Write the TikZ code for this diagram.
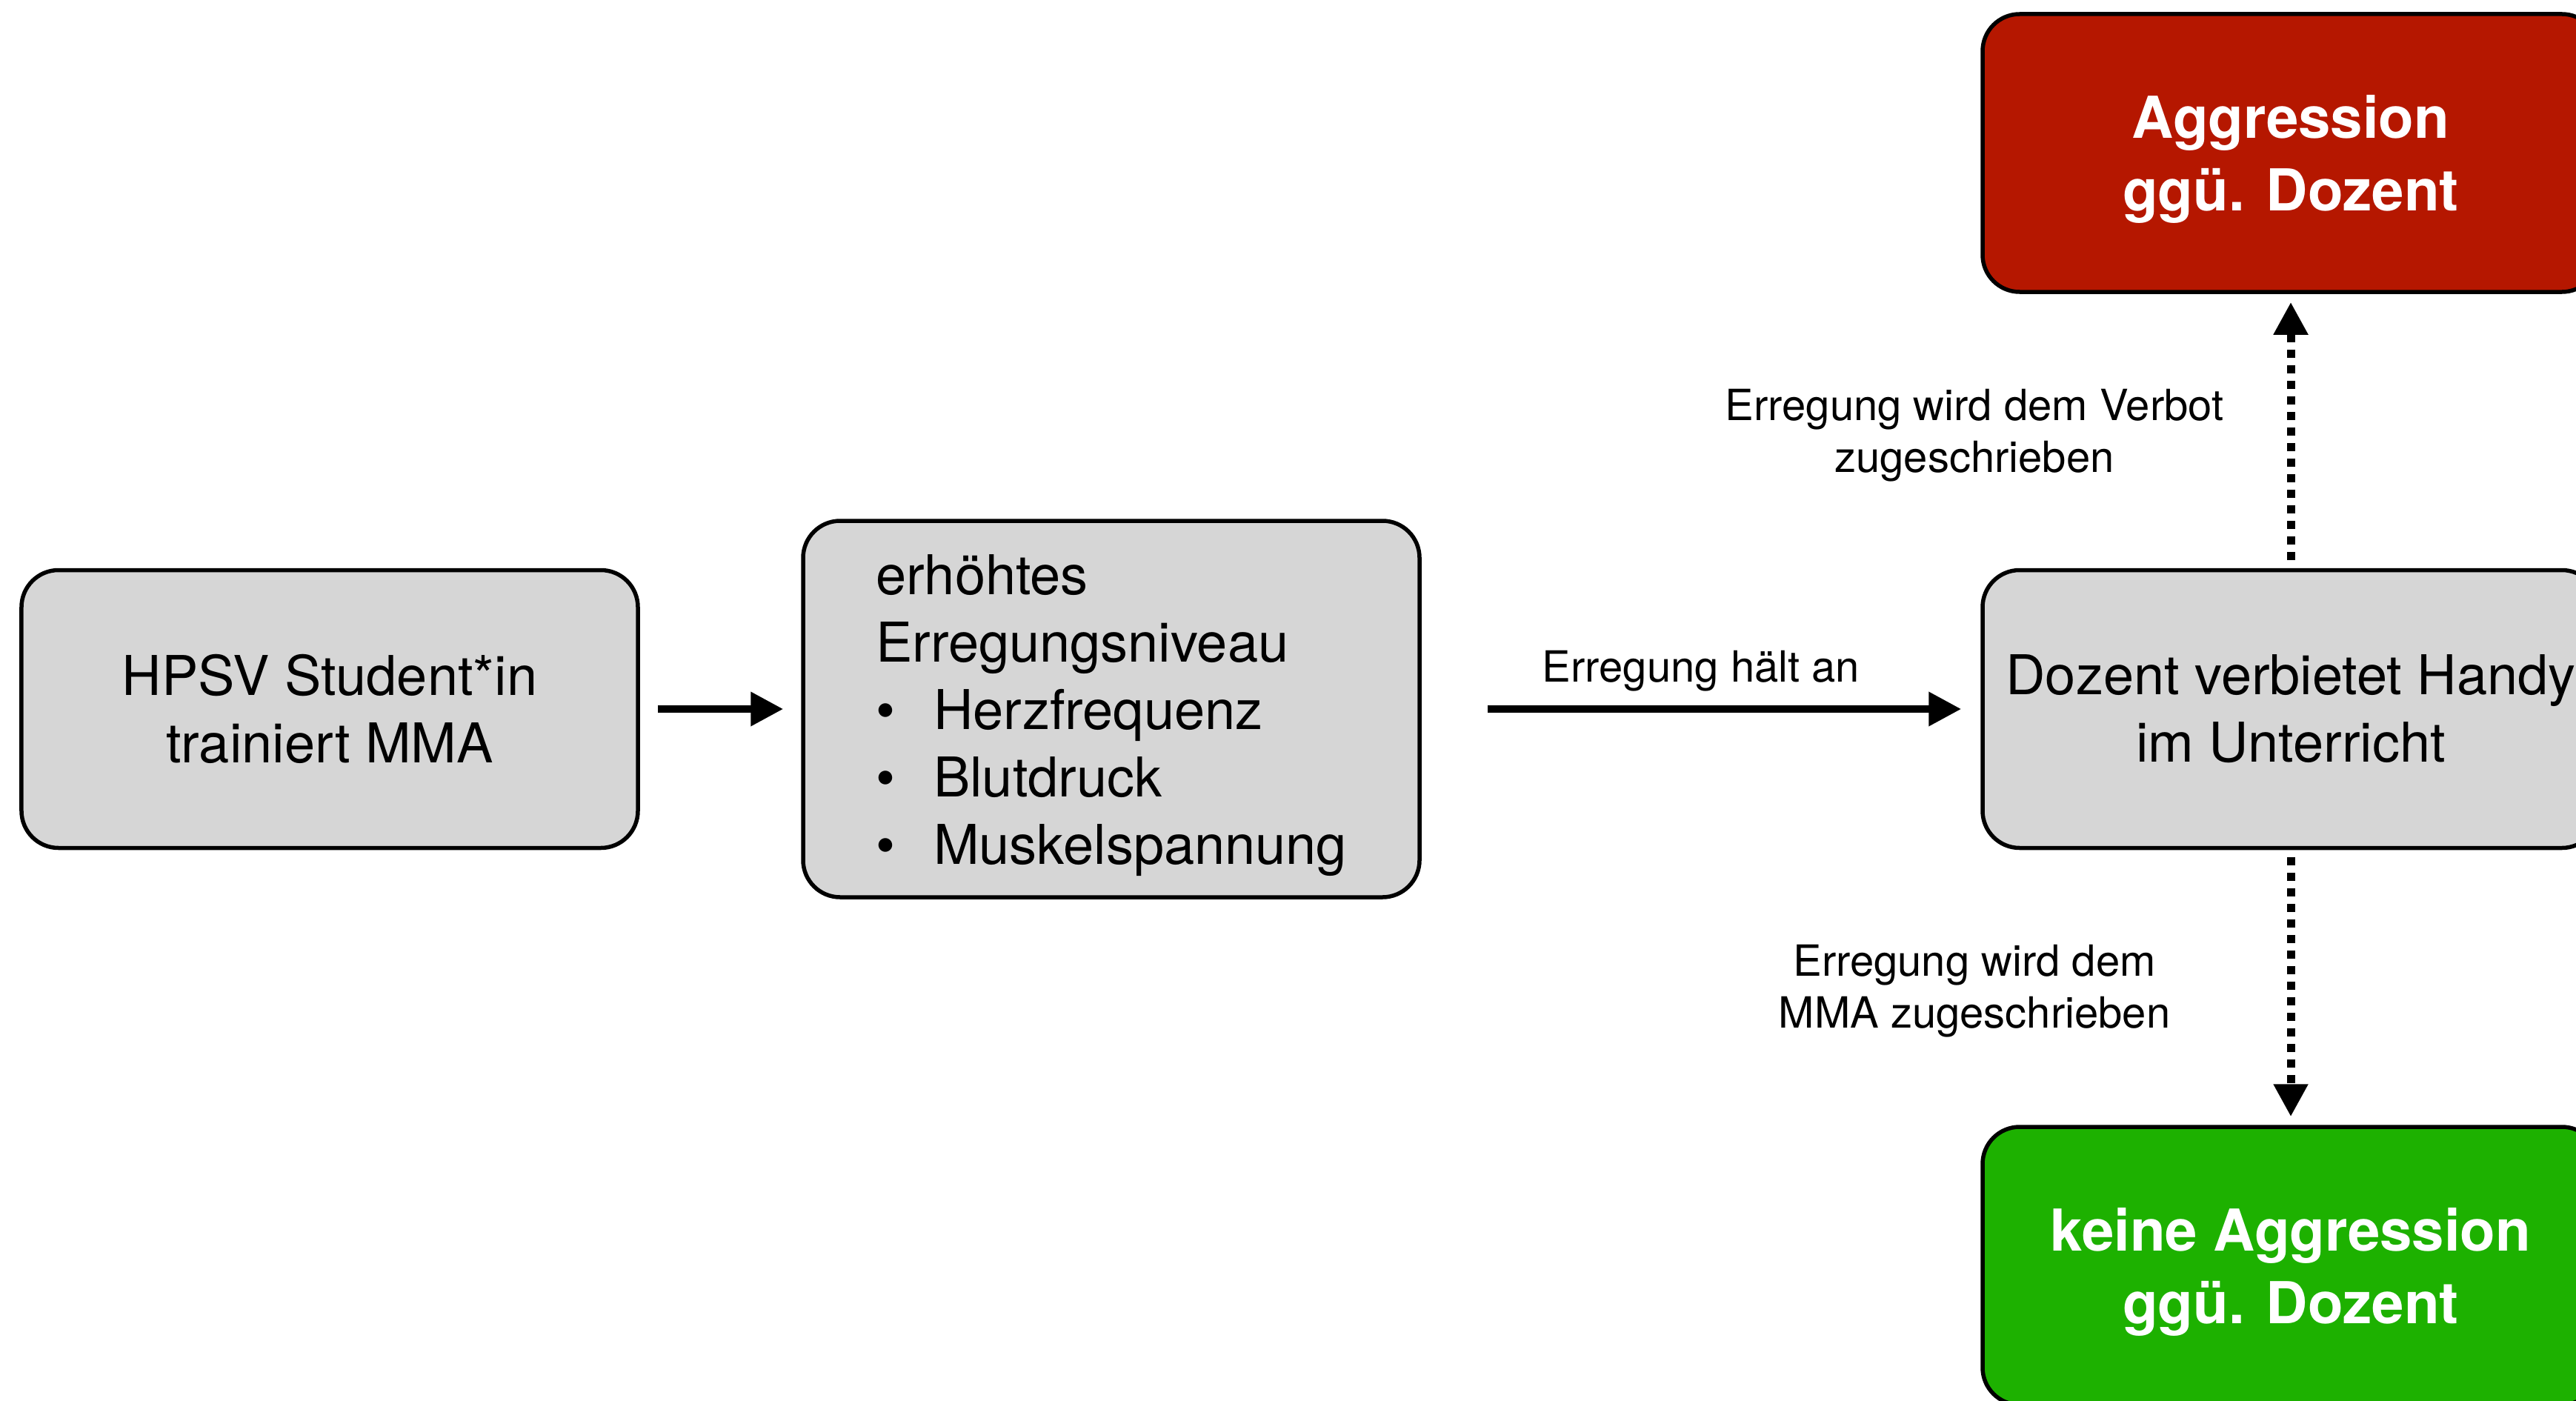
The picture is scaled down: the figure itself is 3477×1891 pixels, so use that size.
\documentclass[tikz,border=0pt]{standalone}
\usepackage{fontspec}
\setmainfont{TeX Gyre Heros}
\usetikzlibrary{arrows.meta}
\definecolor{boxgray}{HTML}{D6D6D6}
\definecolor{aggred}{HTML}{B51700}
\definecolor{okgreen}{HTML}{1DB100}
\tikzset{
  box/.style={draw=black, line width=1.1pt, rounded corners=10pt, fill=boxgray,
    minimum width=166.4pt, minimum height=75pt, align=center, inner sep=0pt,
    font=\fontsize{14.8}{18.2}\selectfont},
  outbox/.style={box, text=white, text depth=0pt, font=\fontsize{15.6}{19.6}\selectfont\bfseries},
  flow/.style={line width=2pt, -{Triangle[length=8.8pt,width=8.8pt]}},
  dotflow/.style={line width=2.2pt, dash pattern=on 2.2pt off 2pt,
    -{Triangle[length=8.8pt,width=8.8pt]}},
  lbl/.style={font=\fontsize{11.6}{14}\selectfont, align=center, inner sep=0pt}
}
\begin{document}
\begin{tikzpicture}[x=0.2pt,y=-0.2pt]
\fill[white] (0,0) rectangle (3477,1891);
\clip (0,0) rectangle (3477,1891);
\node[box] (A) at (445,957) {HPSV Student*in\\trainiert MMA};
\node[box, minimum height=101.6pt, align=left] (B) at (1500,957)
  {\rule{0pt}{14.4pt}erhöhtes\\Erregungsniveau\\
   \makebox[15.6pt][l]{\textbullet}Herzfrequenz\\
   \makebox[15.6pt][l]{\textbullet}Blutdruck\\
   \makebox[15.6pt][l]{\textbullet}Muskelspannung};
\node[box] (C) at (3092,957) {Dozent verbietet Handy\\im Unterricht};
\node[outbox, fill=aggred] (D) at (3092,206.5) {Aggression\\ggü. Dozent};
\node[outbox, fill=okgreen] (E) at (3092,1708.5) {keine Aggression\\ggü. Dozent};

\draw[flow, shorten <=4.8pt, shorten >=4.8pt] (A.east) -- (B.west);
\draw[flow, shorten <=17.8pt, shorten >=5.2pt] (B.east) -- (C.west);
\draw[dotflow, shorten <=2.2pt, shorten >=2.2pt] (C.north) -- (D.south);
\draw[dotflow, shorten <=2pt, shorten >=2.2pt] (C.south) -- (E.north);

\node[lbl, anchor=base] (l1) at (2296,920) {Erregung hält an};
\node[lbl] (l2) at (2665,588) {Erregung wird dem Verbot\\zugeschrieben};
\node[lbl] (l3) at (2665,1338) {Erregung wird dem\\MMA zugeschrieben};
\end{tikzpicture}
\end{document}
